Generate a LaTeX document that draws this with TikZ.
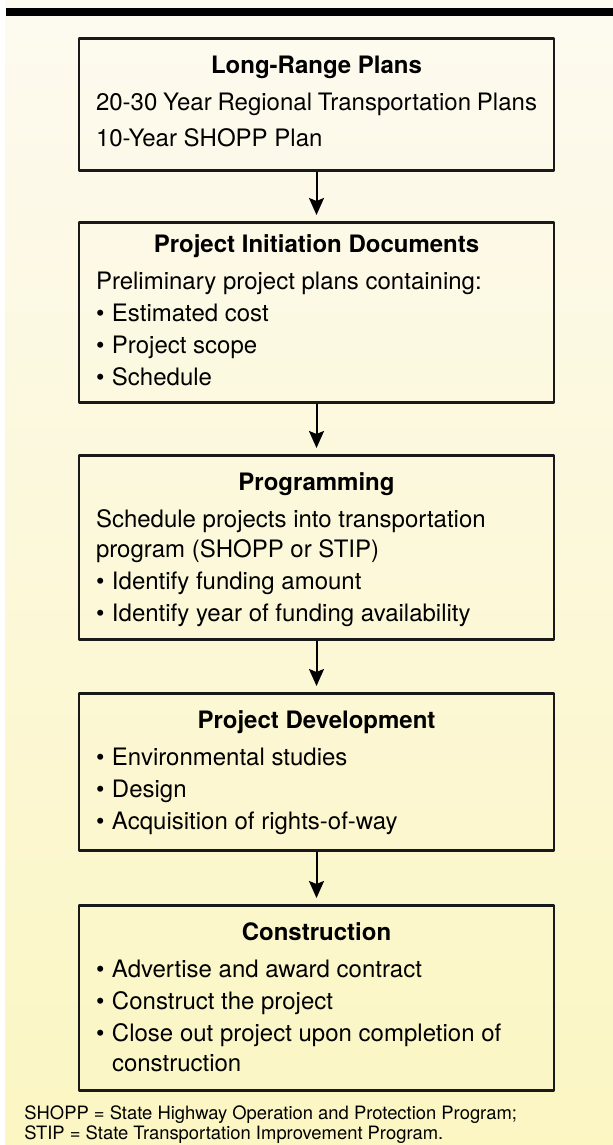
\documentclass[tikz,border=0pt]{standalone}
\usepackage{fontspec}
\setmainfont{TeX Gyre Heros}
\usetikzlibrary{arrows.meta}
\definecolor{papertop}{RGB}{253,250,240}
\definecolor{paperbot}{RGB}{251,246,194}
\newlength{\bulw}\setlength{\bulw}{8pt}
\newcommand{\bul}[1]{\par\hangindent=\bulw\hangafter=1\makebox[\bulw][l]{•}#1}
\newcommand{\stagetitle}[1]{\par{\centering\rule{0pt}{17.5pt}\bfseries #1\par}\vspace{2.5pt}}
\newcommand{\stagebody}[2]{\begin{minipage}[t][#1][t]{220.5pt}\setlength{\parskip}{1pt}#2\end{minipage}}
\begin{document}
\begin{tikzpicture}[x=0.5pt,y=-0.5pt,line join=round,>={Stealth[length=8.5pt,width=7.5pt,inset=1.5pt]}]
		\tikzset{stage/.style={draw=black!90,line width=1.4pt,inner xsep=8.5pt,inner ysep=0pt,anchor=north,font=\fontsize{12pt}{15pt}\selectfont},
			flow/.style={->,line width=1pt,shorten >=3pt}}
		\useasboundingbox (0,0) rectangle (613,1145);
		\fill[white] (0,0) rectangle (613,1145);
		\shade[top color=papertop,bottom color=paperbot] (5,0) rectangle (613,1145);
		\fill[black] (6,8) rectangle (613,16);
		\node[stage] (plans) at (316.5,37) {\stagebody{66pt}{\setlength{\parskip}{3pt}\stagetitle{Long-Range Plans}\vspace{-2pt}
			20-30 Year Regional Transportation Plans\par
			10-Year SHOPP Plan}};
		\node[stage] (pid) at (316.5,221) {\stagebody{90pt}{\vspace*{-2.5pt}\stagetitle{Project Initiation Documents}
			Preliminary project plans containing:
			\bul{Estimated cost}
			\bul{Project scope}
			\bul{Schedule}}};
		\node[stage] (prog) at (316.5,454) {\stagebody{92pt}{\stagetitle{Programming}
			Schedule projects into transportation\\ program (SHOPP or STIP)
			\bul{Identify funding amount}
			\bul{Identify year of funding availability}}};
		\node[stage] (dev) at (316.5,692) {\stagebody{78.5pt}{\stagetitle{Project Development}
			\bul{Environmental studies}
			\bul{Design}
			\bul{Acquisition of rights-of-way}}};
		\node[stage] (constr) at (316.5,904) {\stagebody{92.5pt}{\stagetitle{Construction}
			\bul{Advertise and award contract}
			\bul{Construct the project}
			\bul{Close out project upon completion of\\ construction}}};
		\draw[flow] (plans) -- (pid);
		\draw[flow] (pid) -- (prog);
		\draw[flow] (prog) -- (dev);
		\draw[flow] (dev) -- (constr);
		\node[anchor=base west,inner sep=0pt] (note) at (24,1119) {\parbox[t]{300pt}{\fontsize{9.2pt}{10pt}\selectfont SHOPP = State Highway Operation and Protection Program;\\ STIP = State Transportation Improvement Program.}};
\end{tikzpicture}
\end{document}
